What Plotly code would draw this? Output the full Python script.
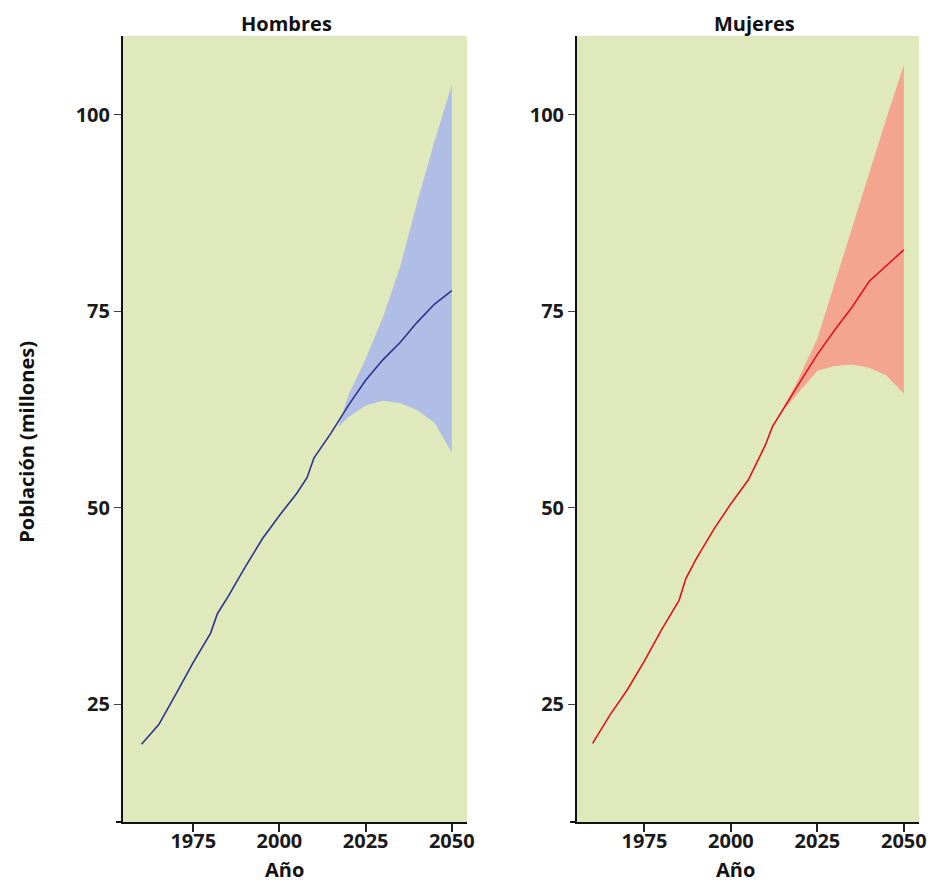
import plotly.graph_objects as go

W, H = 936, 883

# ---- data ----
men_years = [1960, 1965, 1970, 1975, 1980, 1982, 1985, 1990, 1995, 2000, 2005, 2008, 2010,
             2015, 2020, 2025, 2030, 2035, 2040, 2045, 2050]
men_values = [19.9, 22.4, 26.3, 30.3, 34.0, 36.5, 38.6, 42.4, 46.0, 49.0, 51.8, 53.8, 56.3,
              59.5, 63.0, 66.2, 68.8, 71.0, 73.6, 75.9, 77.6]
men_band_years = [2017, 2020, 2025, 2030, 2035, 2040, 2045, 2050]
men_upper = [60.2, 64.3, 68.9, 74.2, 80.6, 88.9, 96.6, 103.8]
men_lower = [60.2, 61.5, 63.0, 63.6, 63.3, 62.4, 60.8, 57.0]

women_years = [1960, 1965, 1970, 1975, 1980, 1985, 1987, 1990, 1995, 2000, 2005, 2010, 2012,
               2015, 2020, 2025, 2030, 2035, 2040, 2045, 2050]
women_values = [20.0, 23.6, 26.8, 30.5, 34.5, 38.2, 41.0, 43.5, 47.2, 50.5, 53.5, 58.0, 60.3,
                62.5, 66.0, 69.5, 72.6, 75.5, 78.8, 80.8, 82.8]
women_band_years = [2014, 2019, 2025, 2030, 2035, 2040, 2045, 2050]
women_upper = [61.8, 65.9, 71.5, 78.5, 85.8, 92.8, 99.6, 106.3]
women_lower = [61.8, 64.3, 67.4, 68.0, 68.2, 67.8, 66.8, 64.5]

x_ticks = [1975, 2000, 2025, 2050]
y_ticks = [25, 50, 75, 100]
panel_titles = ["Hombres", "Mujeres"]
x_title = "Año"
y_title = "Población (millones)"

# ---- style ----
FONT = "Open Sans"
BG = "#dfe9bc"
MEN_LINE = "#2b348f"
MEN_BAND = "#b0bee6"
WOMEN_LINE = "#e3121d"
WOMEN_BAND = "#f4a590"

def px(x):
    return x / W

def py(y):
    return 1 - y / H

fig = go.Figure()

def add_panel(xa, ya, years, vals, byears, lo, hi, lcol, bcol):
    fig.add_trace(go.Scatter(x=byears, y=lo, mode="lines", line=dict(width=0, color=bcol),
                             xaxis=xa, yaxis=ya, showlegend=False, hoverinfo="skip"))
    fig.add_trace(go.Scatter(x=byears, y=hi, mode="lines", line=dict(width=0, color=bcol),
                             fill="tonexty", fillcolor=bcol,
                             xaxis=xa, yaxis=ya, showlegend=False, hoverinfo="skip"))
    fig.add_trace(go.Scatter(x=years, y=vals, mode="lines", line=dict(width=1.6, color=lcol),
                             xaxis=xa, yaxis=ya, showlegend=False))

add_panel("x", "y", men_years, men_values, men_band_years, men_lower, men_upper, MEN_LINE, MEN_BAND)
add_panel("x2", "y2", women_years, women_values, women_band_years, women_lower, women_upper,
          WOMEN_LINE, WOMEN_BAND)

tickfont = dict(family=FONT, size=20, color="#1a1a1a", weight="bold")
xcommon = dict(tickvals=x_ticks, ticks="outside", ticklen=8, tickwidth=1.5, tickcolor="#222",
               ticklabelstandoff=-8,
               showline=True, linecolor="#111", linewidth=2, showgrid=False, zeroline=False,
               tickfont=tickfont, fixedrange=True)
ycommon = dict(range=[10, 110], tickvals=y_ticks, ticks="outside", ticklen=7, tickwidth=1.2,
               tickcolor="#444", showline=True, linecolor="#111", linewidth=2, showgrid=False,
               zeroline=False, tickfont=tickfont, domain=[py(822), py(36)], fixedrange=True)

fig.update_layout(
    width=W, height=H,
    margin=dict(l=0, r=0, t=0, b=0),
    paper_bgcolor="white", plot_bgcolor=BG,
    xaxis=dict(domain=[px(124), px(471)], range=[1954.6, 2054.4], anchor="y", **xcommon),
    yaxis=dict(anchor="x", **ycommon),
    xaxis2=dict(domain=[px(582), px(927)], range=[1955.5, 2054.4], anchor="y2", **xcommon),
    yaxis2=dict(anchor="x2", **ycommon),
    showlegend=False,
)

ann_font = dict(family=FONT, size=20, color="#111", weight="bold")
anns = [
    dict(text=panel_titles[0], x=px(289), y=py(23), xref="paper", yref="paper",
         xanchor="center", yanchor="middle", showarrow=False, font=ann_font),
    dict(text=panel_titles[1], x=px(761), y=py(23), xref="paper", yref="paper",
         xanchor="center", yanchor="middle", showarrow=False, font=ann_font),
    dict(text=x_title, x=px(287), y=py(869.5), xref="paper", yref="paper",
         xanchor="center", yanchor="middle", showarrow=False, font=ann_font),
    dict(text=x_title, x=px(742), y=py(869.5), xref="paper", yref="paper",
         xanchor="center", yanchor="middle", showarrow=False, font=ann_font),
    dict(text=y_title, x=px(27), y=py(442), xref="paper", yref="paper", textangle=-90,
         xanchor="center", yanchor="middle", showarrow=False, font=ann_font),
]
fig.update_layout(annotations=anns)

# small extension of the x axis line to the left of the y axis (as in the original)
shapes = [
    dict(type="line", xref="paper", yref="paper", x0=px(117), x1=px(124), y0=py(822), y1=py(822),
         line=dict(color="#111", width=2)),
    dict(type="line", xref="paper", yref="paper", x0=px(575), x1=px(582), y0=py(822), y1=py(822),
         line=dict(color="#111", width=2)),
]
fig.update_layout(shapes=shapes)

fig.write_html(
    "out.html",
    config={"displayModeBar": False},
    post_script=(
        "document.documentElement.style.margin='0';"
        "document.body.style.margin='0';"
        "document.documentElement.style.overflow='hidden';"
        "document.body.style.overflow='hidden';"
    ),
)
